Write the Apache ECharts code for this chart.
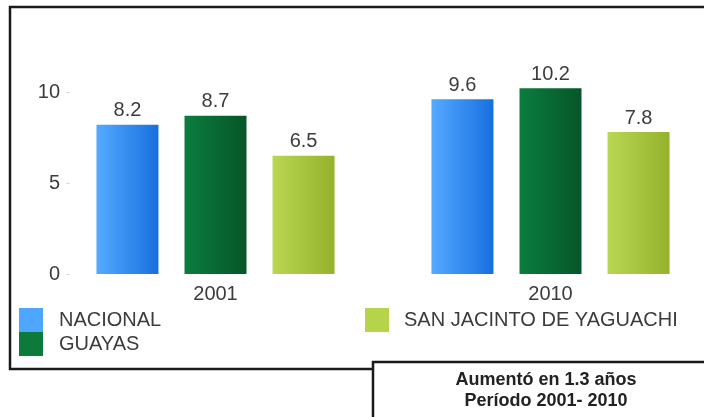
<!DOCTYPE html>
<html>
<head>
<meta charset="utf-8">
<script src="https://cdn.jsdelivr.net/npm/echarts@6/dist/echarts.min.js"></script>
<style>
html,body{margin:0;padding:0;background:#fff;}
#c{width:704px;height:417px;}
</style>
</head>
<body>
<div id="c"></div>
<script>
const categories = ['2001', '2010'];
const seriesNames = ['NACIONAL', 'GUAYAS', 'SAN JACINTO DE YAGUACHI'];
const nacional = [8.2, 9.6];
const guayas = [8.7, 10.2];
const yaguachi = [6.5, 7.8];
const yTickLabels = [0, 5, 10];
const noteLines = ['Aumentó en 1.3 años', 'Período 2001- 2010'];

const FONT = '"Liberation Sans", Arial, sans-serif';
const TXT = '#3c3c3c';

function grad(c1, c2) {
  return new echarts.graphic.LinearGradient(0, 0, 1, 0, [
    {offset: 0, color: c1}, {offset: 1, color: c2}
  ]);
}
const styles = [
  {solid: '#4ea6ff', g: grad('#55aaff', '#176fdf')},
  {solid: '#0b7a3b', g: grad('#0b7d3e', '#065629')},
  {solid: '#b5d44b', g: grad('#b9d752', '#94b22c')}
];
const values = [nacional, guayas, yaguachi];

const chart = echarts.init(document.getElementById('c'), null, {renderer: 'canvas'});
chart.setOption({
  animation: false,
  backgroundColor: '#fff',
  textStyle: {fontFamily: FONT},
  grid: {left: 48, width: 670, top: 55.6, height: 218.4, containLabel: false, outerBoundsMode: 'none'},
  xAxis: {
    type: 'category',
    data: categories,
    axisLine: {show: false},
    axisTick: {show: false},
    axisLabel: {fontSize: 20, color: TXT, margin: 10, fontFamily: FONT}
  },
  yAxis: {
    type: 'value',
    min: 0, max: 12, interval: 5,
    offset: -22,
    axisLine: {show: false},
    axisTick: {show: true, length: 4, lineStyle: {color: '#dcdcdc'}, customValues: yTickLabels},
    splitLine: {show: false},
    axisLabel: {
      fontSize: 20, color: TXT, margin: 10, fontFamily: FONT,
      customValues: yTickLabels,
      formatter: function (v) { return yTickLabels.indexOf(v) >= 0 ? String(v) : ''; }
    }
  },
  legend: [
    {
      left: 19, top: 308, orient: 'vertical', itemGap: 0, padding: 0,
      itemWidth: 24, itemHeight: 24, icon: 'rect',
      textStyle: {fontSize: 20, color: TXT, fontFamily: FONT, padding: [0, 0, 0, 11]},
      data: [
        {name: seriesNames[0], itemStyle: {color: styles[0].solid}},
        {name: seriesNames[1], itemStyle: {color: styles[1].solid}}
      ]
    },
    {
      left: 365, top: 308, orient: 'vertical', itemGap: 0, padding: 0,
      itemWidth: 24, itemHeight: 24, icon: 'rect',
      textStyle: {fontSize: 20, color: TXT, fontFamily: FONT, padding: [0, 0, 0, 10]},
      data: [{name: seriesNames[2], itemStyle: {color: styles[2].solid}}]
    }
  ],
  series: seriesNames.map(function (n, i) {
    return {
      name: n,
      type: 'bar',
      data: values[i],
      barWidth: 62,
      barGap: '42%',
      itemStyle: {color: styles[i].g},
      label: {
        show: true, position: 'top', distance: 4,
        fontSize: 20, color: TXT, fontFamily: FONT
      }
    };
  }),
  graphic: [
    {
      type: 'rect', z: 100,
      shape: {x: 10, y: 7, width: 720, height: 362},
      style: {fill: 'none', stroke: '#1a1a1a', lineWidth: 2.5}
    },
    {
      type: 'rect', z: 101,
      shape: {x: 373, y: 362, width: 400, height: 100},
      style: {fill: '#fff', stroke: '#1a1a1a', lineWidth: 2.5}
    },
    {
      type: 'text', z: 102, x: 546, y: 380,
      style: {text: noteLines[0], fill: '#222',
              font: 'bold 18px ' + FONT, textAlign: 'center', textVerticalAlign: 'middle'}
    },
    {
      type: 'text', z: 102, x: 546, y: 401,
      style: {text: noteLines[1], fill: '#222',
              font: 'bold 18px ' + FONT, textAlign: 'center', textVerticalAlign: 'middle'}
    }
  ]
});
</script>
</body>
</html>
